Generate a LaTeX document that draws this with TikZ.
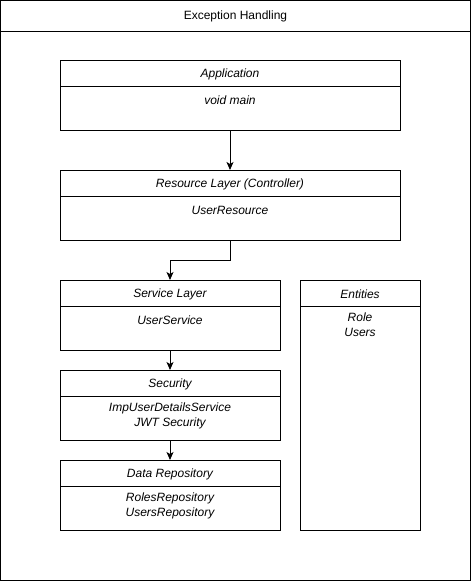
\documentclass[tikz,border=0pt]{standalone}
\usepackage{fontspec}
\setmainfont{Liberation Sans}
\usetikzlibrary{arrows.meta}
\begin{document}
\begin{tikzpicture}[x=1pt,y=-1pt,
  every node/.style={font=\fontsize{12}{15}\selectfont, inner sep=0pt, outer sep=0pt},
  classbox/.style={draw, line width=1pt, anchor=north west, minimum width=#1, minimum height=70pt},
  hdr/.style={font=\fontsize{12}{15}\selectfont\itshape},
  bodytxt/.style={font=\fontsize{12}{15}\selectfont\itshape, align=center, anchor=north},
  conn/.style={line width=1pt, -{Stealth[length=8pt,width=7pt,inset=2pt]}}]
\useasboundingbox (0,0) rectangle (471,581);
% outer frame
\node[draw, line width=1pt, anchor=north west, minimum width=469.5pt, minimum height=579.5pt] (frame) at (0.75,0.75) {};
\coordinate (fl) at (0.75,31);
\coordinate (fr) at (470.25,31);
\draw[line width=1pt] (fl) -- (fr);
\node (title) at (235.5,16) {Exception Handling};

% Application
\node[classbox=340pt] (app) at (60,60) {};
\node[hdr] (appH) at (230,74) {Application};
\draw[line width=1pt] ([yshift=-26pt]app.north west) -- ([yshift=-26pt]app.north east);
\node[bodytxt] (appB) at (230,96) {void main};

% Resource layer
\node[classbox=340pt] (res) at (60,170) {};
\node[hdr] (resH) at (230,184) {Resource Layer (Controller)};
\draw[line width=1pt] ([yshift=-26pt]res.north west) -- ([yshift=-26pt]res.north east);
\node[bodytxt] (resB) at (230,206) {UserResource};

% Service layer
\node[classbox=220pt] (svc) at (60,280) {};
\node[hdr] (svcH) at (170,294) {Service Layer};
\draw[line width=1pt] ([yshift=-26pt]svc.north west) -- ([yshift=-26pt]svc.north east);
\node[bodytxt] (svcB) at (170,316) {UserService};

% Security
\node[classbox=220pt] (sec) at (60,370) {};
\node[hdr] (secH) at (170,384) {Security};
\draw[line width=1pt] ([yshift=-26pt]sec.north west) -- ([yshift=-26pt]sec.north east);
\node[bodytxt] (secB) at (170,403) {ImpUserDetailsService\\JWT Security};

% Data repository
\node[classbox=220pt] (repo) at (60,460) {};
\node[hdr] (repoH) at (170,474) {Data Repository};
\draw[line width=1pt] ([yshift=-26pt]repo.north west) -- ([yshift=-26pt]repo.north east);
\node[bodytxt] (repoB) at (170,493) {RolesRepository\\UsersRepository};

% Entities
\node[draw, line width=1pt, anchor=north west, minimum width=120pt, minimum height=250pt] (ent) at (300,280) {};
\node[hdr] (entH) at (360,294) {Entities};
\draw[line width=1pt] ([yshift=-26pt]ent.north west) -- ([yshift=-26pt]ent.north east);
\node[bodytxt] (entB) at (360,313) {Role\\Users};

% connectors
\draw[conn] (app.south) -- (res.north);
\draw[conn] (res.south) -- ++(0,20) -| (svc.north);
\draw[conn] (svc.south) -- (sec.north);
\draw[conn] (sec.south) -- (repo.north);
\end{tikzpicture}
\end{document}
